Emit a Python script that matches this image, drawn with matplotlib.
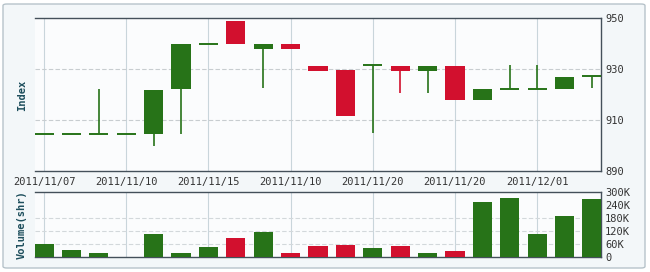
import numpy as np
import matplotlib.pyplot as plt
from matplotlib.patches import FancyBboxPatch

# Data
opens = [904.5, 904.5, 904.5, 904.5, 904.5, 922.0, 940.0, 949.0, 938.0, 940.0, 931.3,
         929.6, 931.5, 931.3, 929.3, 931.3, 918.0, 922.3, 922.3, 922.3, 927.2]
closes = [904.5, 904.5, 904.5, 904.5, 921.7, 940.0, 940.0, 940.0, 940.0, 938.0, 929.3,
          911.5, 931.5, 929.3, 931.3, 918.0, 922.3, 922.3, 922.3, 926.7, 927.2]
highs = [904.5, 904.5, 922.3, 904.5, 921.7, 940.0, 940.0, 949.0, 940.0, 940.0, 931.3,
         929.6, 931.5, 931.3, 931.3, 931.3, 922.3, 931.5, 931.5, 926.7, 927.2]
lows = [904.5, 904.5, 904.5, 904.5, 900.0, 904.5, 940.0, 940.0, 922.6, 938.0, 929.3,
        911.5, 905.0, 920.6, 920.6, 918.0, 918.0, 922.3, 922.3, 922.3, 922.6]
volumes = [60000, 33000, 18000, 1000, 106000, 18000, 47000, 86000, 116000, 19000, 51000,
           56000, 42000, 51000, 19000, 28000, 256000, 273000, 106000, 187000, 266000]

tick_pos = [0, 3, 6, 9, 12, 15, 18]
tick_labels = ["2011/11/07", "2011/11/10", "2011/11/15", "2011/11/10",
               "2011/11/20", "2011/11/20", "2011/12/01"]
price_ticks = [890, 910, 930, 950]
vol_ticks = [0, 60000, 120000, 180000, 240000, 300000]
vol_labels = ["0", "60K", "120K", "180K", "240K", "300K"]

GREEN = "#277318"
RED = "#d2102e"
GRID = "#c9d5db"
LABEL = "#1d4e5c"
TXT = "#333333"
W = 0.7

fig = plt.figure(figsize=(6.5, 2.72), dpi=100)
fig.patch.set_facecolor("white")

# outer rounded panel
panel = FancyBboxPatch((3 / 650, 4 / 272), 642 / 650, 264 / 272,
                       boxstyle="round,pad=0,rounding_size=0.006",
                       transform=fig.transFigure, facecolor="#f3f7f9",
                       edgecolor="#b7c3ca", linewidth=1.0, zorder=-5)
fig.patches.append(panel)

ax = fig.add_axes([35 / 650, 1 - 171 / 272, 566 / 650, 153 / 272])
axv = fig.add_axes([35 / 650, 1 - 257 / 272, 566 / 650, 65 / 272])

x = np.arange(len(opens))
colors = [GREEN if c >= o else RED for o, c in zip(opens, closes)]

for a in (ax, axv):
    a.set_facecolor("#fbfcfd")
    a.set_xlim(-0.33, len(opens) - 0.67)
    for xp in tick_pos:
        a.axvline(xp, color=GRID, linewidth=0.8, zorder=1)
    a.yaxis.tick_right()
    a.tick_params(axis="both", length=0, labelsize=7.5, labelcolor=TXT)
    a.spines["left"].set_visible(False)
    for s in ("top", "right", "bottom"):
        a.spines[s].set_color("#44505a")
        a.spines[s].set_linewidth(1.0)

# candles
for i in x:
    o, c, h, l = opens[i], closes[i], highs[i], lows[i]
    col = colors[i]
    if h > l:
        ax.vlines(i, l, h, color=col, linewidth=1.2, zorder=3)
    lo, hi = min(o, c), max(o, c)
    if hi - lo < 0.3:
        ax.hlines(o, i - W / 2, i + W / 2, color=col, linewidth=1.4, zorder=3)
    else:
        ax.bar(i, hi - lo, bottom=lo, width=W, color=col, zorder=3)

ax.set_ylim(890, 950)
ax.set_yticks(price_ticks)
ax.set_yticklabels([str(t) for t in price_ticks], family="DejaVu Sans Mono")
for yv in (910, 930):
    ax.axhline(yv, color="#c8cdd0", linewidth=0.8, linestyle=(0, (4, 2)), zorder=1)
ax.set_xticks(tick_pos)
ax.set_xticklabels(tick_labels, family="DejaVu Sans Mono")
ax.tick_params(axis="x", pad=4)
ax.tick_params(axis="y", pad=3)

# volume
axv.bar(x, volumes, width=W, color=colors, zorder=3)
axv.set_ylim(0, 300000)
axv.set_yticks(vol_ticks)
axv.set_yticklabels(vol_labels, family="DejaVu Sans Mono")
axv.tick_params(axis="y", pad=3)
axv.set_xticks([])
for yv in vol_ticks[1:4]:
    axv.axhline(yv, color="#d3d8db", linewidth=0.8, linestyle=(0, (4, 2)), zorder=1)

fig.text(22 / 650, 1 - 95 / 272, "Index", rotation=90, ha="center", va="center",
         fontsize=7.5, fontweight="bold", color=LABEL, family="DejaVu Sans Mono")
fig.text(22 / 650, 1 - 225 / 272, "Volume(shr)", rotation=90, ha="center", va="center",
         fontsize=7.5, fontweight="bold", color=LABEL, family="DejaVu Sans Mono")

fig.savefig("out.png", dpi=100)
